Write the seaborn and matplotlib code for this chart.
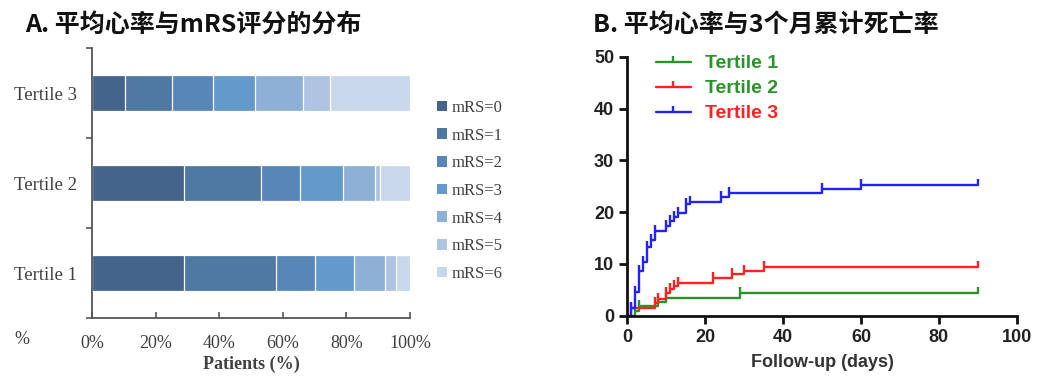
import numpy as np
import pandas as pd
import matplotlib
matplotlib.use("Agg")
import matplotlib.pyplot as plt
import seaborn as sns
from matplotlib.path import Path
from matplotlib.lines import Line2D
from matplotlib.patches import Patch

sns.set_theme(style="white")
plt.rcParams["font.family"] = ["Liberation Serif", "DejaVu Sans"]

# ---------------- data ----------------
tertiles = ["Tertile 3", "Tertile 2", "Tertile 1"]
mrs_labels = ["mRS=0", "mRS=1", "mRS=2", "mRS=3", "mRS=4", "mRS=5", "mRS=6"]
tertile3_pct = [10.5, 14.8, 12.7, 13.3, 15.2, 8.4, 25.1]
tertile2_pct = [28.9, 24.1, 12.4, 13.6, 10.0, 1.6, 9.4]
tertile1_pct = [28.9, 28.9, 12.4, 12.2, 9.8, 3.4, 4.4]
pct_ticks = [0, 20, 40, 60, 80, 100]
pct_tick_labels = ["0%", "20%", "40%", "60%", "80%", "100%"]

t1_days = [0, 2, 3, 8, 10, 29, 90]
t1_rate = [0, 1.0, 1.8, 2.6, 3.5, 4.4, 4.4]
t2_days = [0, 1, 7, 8, 10, 11, 12, 13, 22, 27, 30, 35, 90]
t2_rate = [0, 1.4, 2.4, 3.2, 4.3, 5.1, 5.7, 6.25, 7.2, 8.0, 8.7, 9.4, 9.4]
t3_days = [0, 1, 2, 3, 4, 5, 6, 7, 10, 11, 12, 13, 15, 16, 24, 26, 50, 60, 90]
t3_rate = [0, 1.4, 4.6, 8.6, 10.3, 13.3, 14.7, 16.4, 17.3, 18.2, 19.0, 19.8, 21.5, 22.0,
           23.0, 23.6, 24.5, 25.3, 25.3]
group_names = ["Tertile 1", "Tertile 2", "Tertile 3"]
day_ticks = [0, 20, 40, 60, 80, 100]
rate_ticks = [0, 10, 20, 30, 40, 50]

# ---------------- styles ----------------
mrs_colors = ["#44648c", "#4f79a3", "#5787b9", "#6399cb", "#8eafd6", "#aec4e2", "#c9d7ec"]
line_colors = {"Tertile 1": "#2a942a", "Tertile 2": "#ff2222", "Tertile 3": "#2222ff"}
legend_text_colors = ["#2a942a", "#2a942a", "#ff2222"]
axis_gray = "#555555"
text_gray = "#404040"

fig = plt.figure(figsize=(10.38, 3.81), dpi=100)
W, H = 1038, 381

def fx(px):
    return px / W

def fy(py):
    return 1 - py / H

# ---------------- panel A ----------------
axA = fig.add_axes([fx(92), fy(318), fx(410) - fx(92), fy(48) - fy(318)])
table = np.array([tertile3_pct, tertile2_pct, tertile1_pct])
cum = np.cumsum(table, axis=1)
for k in range(6, -1, -1):
    df = pd.DataFrame({"tertile": tertiles, "value": cum[:, k]})
    sns.barplot(data=df, x="value", y="tertile", order=tertiles, orient="h",
                color=mrs_colors[k], saturation=1, width=0.39, ax=axA,
                edgecolor="white", linewidth=0.9)
axA.set_xlim(0, 100)
axA.set_ylim(2.5, -0.5)
axA.set_xticks(pct_ticks)
axA.set_xticklabels(pct_tick_labels)
axA.set_yticks(range(3))
axA.set_yticklabels(tertiles)
axA.set_yticks([-0.5, 0.5, 1.5, 2.5], minor=True)
axA.tick_params(axis="y", which="major", length=0, pad=11, labelsize=13.5, labelcolor=text_gray)
axA.tick_params(axis="y", which="minor", direction="out", length=4, width=1.2, color=axis_gray, left=True)
axA.tick_params(axis="x", which="major", direction="in", length=4, width=1.2, color=axis_gray,
                bottom=True, pad=12, labelsize=13, labelcolor=text_gray)
for s in ["top", "right"]:
    axA.spines[s].set_visible(False)
for s in ["left", "bottom"]:
    axA.spines[s].set_color(axis_gray)
    axA.spines[s].set_linewidth(1.3)
axA.set_xlabel("Patients (%)", fontsize=13, fontweight="bold", color=text_gray, labelpad=3)
axA.set_ylabel("")
fig.text(fx(22), fy(340), "%", fontsize=13, color=text_gray, ha="center", va="center")

handles = [Patch(facecolor=c, edgecolor="none") for c in mrs_colors]
fig.legend(handles, mrs_labels, loc="upper left", bbox_to_anchor=(fx(437), fy(100)),
           frameon=False, fontsize=12, handlelength=0.6, handleheight=0.6,
           handletextpad=0.25, labelspacing=0.7, borderpad=0, borderaxespad=0,
           labelcolor=text_gray)

# ---------------- panel B ----------------
axB = fig.add_axes([fx(627.3), fy(315.7), fx(1016.7) - fx(627.3), fy(56.7) - fy(315.7)])
rows = []
for name, d, r in zip(group_names, [t1_days, t2_days, t3_days], [t1_rate, t2_rate, t3_rate]):
    for di, ri in zip(d, r):
        rows.append({"day": di, "rate": ri, "group": name})
km = pd.DataFrame(rows)
tick_marker = Path([(0, 0), (0, 1)])
sns.lineplot(data=km, x="day", y="rate", hue="group", palette=line_colors,
             estimator=None, sort=False, drawstyle="steps-post", linewidth=1.7,
             marker=tick_marker, markersize=9, markeredgewidth=1.7, markevery=slice(1, None),
             legend=False, ax=axB)
for ln in axB.lines:
    ln.set_markeredgecolor(ln.get_color())
axB.set_xlim(0, 100)
axB.set_ylim(0, 50)
axB.set_xticks(day_ticks)
axB.set_yticks(rate_ticks)
for s in ["top", "right"]:
    axB.spines[s].set_visible(False)
for s in ["left", "bottom"]:
    axB.spines[s].set_color("#111111")
    axB.spines[s].set_linewidth(2)
axB.tick_params(axis="both", direction="out", length=6, width=2, color="#111111",
                labelsize=13, labelcolor="#222222", left=True, bottom=True)
for lab in axB.get_xticklabels() + axB.get_yticklabels():
    lab.set_fontfamily(["Liberation Sans", "DejaVu Sans"])
    lab.set_fontweight("bold")
axB.set_xlabel("Follow-up (days)", fontsize=13, fontweight="bold", color="#333333",
               family=["Liberation Sans", "DejaVu Sans"], labelpad=6)
axB.set_ylabel("")

leg_handles = [Line2D([0], [0], color=line_colors[g], linewidth=1.7, marker=tick_marker,
                      markersize=9, markeredgewidth=1.7, markeredgecolor=line_colors[g])
               for g in group_names]
legB = axB.legend(leg_handles, group_names, loc="upper left", bbox_to_anchor=(0.03, 1.075),
                  frameon=False, handlelength=1.75, handletextpad=0.75, labelspacing=0.38,
                  prop={"family": ["Liberation Sans", "DejaVu Sans"], "weight": "bold", "size": 14},
                  numpoints=1)
for t, c in zip(legB.get_texts(), legend_text_colors):
    t.set_color(c)

# ---------------- titles ----------------
cjk = ["Noto Sans CJK SC", "DejaVu Sans"]
fig.text(fx(25), fy(25), "A. 平均心率与mRS评分的分布", family=cjk, fontweight="bold",
         fontsize=18, ha="left", va="center", color="#111111")
fig.text(fx(593), fy(25), "B. 平均心率与3个月累计死亡率", family=cjk, fontweight="bold",
         fontsize=18, ha="left", va="center", color="#111111")

fig.savefig("out.png", dpi=100)
